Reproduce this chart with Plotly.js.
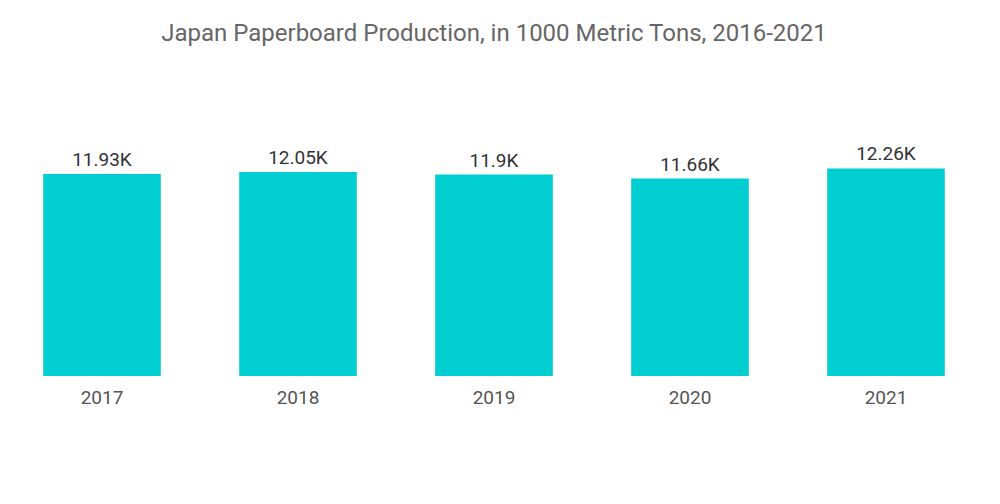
<!DOCTYPE html>
<html>
<head>
<meta charset="utf-8">
<script src="https://cdn.plot.ly/plotly-3.0.1.min.js"></script>
<style>html,body{margin:0;padding:0;background:#fff;}#chart{width:1000px;height:504px;}</style>
</head>
<body>
<div id="chart"></div>
<script>
const years = ['2017', '2018', '2019', '2020', '2021'];
const production = [11930, 12050, 11900, 11660, 12260];
const valueLabels = ['11.93K', '12.05K', '11.9K', '11.66K', '12.26K'];

const trace = {
  type: 'bar',
  x: years,
  y: production,
  text: valueLabels,
  textposition: 'outside',
  textfont: {family: 'Roboto, sans-serif', size: 19, color: '#333333'},
  cliponaxis: false,
  marker: {color: '#00CED1'},
  hoverinfo: 'none'
};

const layout = {
  width: 1000,
  height: 504,
  margin: {l: 4, r: 16, t: 80, b: 128},
  paper_bgcolor: '#ffffff',
  plot_bgcolor: '#ffffff',
  bargap: 0.4,
  showlegend: false,
  title: {
    text: 'Japan Paperboard Production, in 1000 Metric Tons, 2016-2021',
    font: {family: 'Roboto, sans-serif', size: 24, color: '#666666'},
    x: 0.494, xanchor: 'center', y: 0.936, yanchor: 'middle'
  },
  xaxis: {
    type: 'category',
    showgrid: false, zeroline: false, showline: false,
    ticks: '',
    ticklabelstandoff: 8,
    tickfont: {family: 'Roboto, sans-serif', size: 19, color: '#555555'}
  },
  yaxis: {
    range: [0, 17484],
    visible: false,
    showgrid: false, zeroline: false
  }
};

Plotly.newPlot('chart', [trace], layout, {displayModeBar: false, staticPlot: true});
</script>
</body>
</html>
